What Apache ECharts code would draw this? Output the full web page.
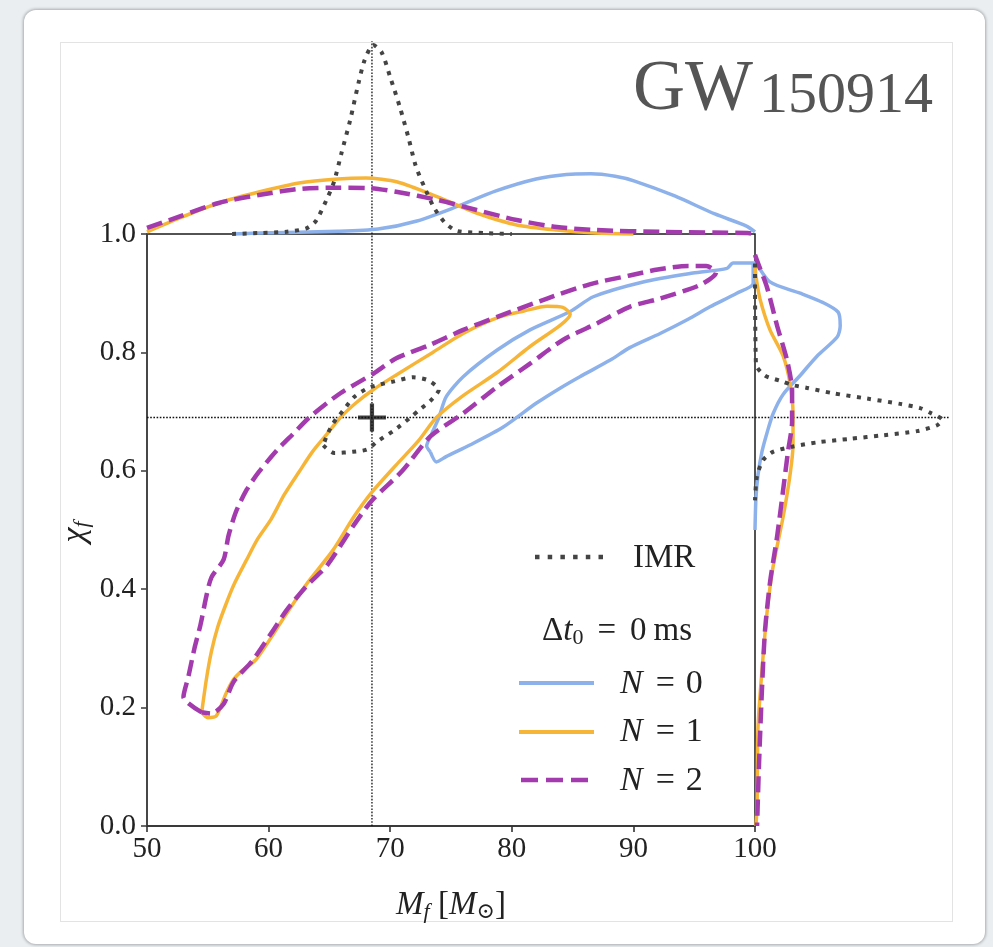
<!DOCTYPE html>
<html><head><meta charset="utf-8">
<script src="https://cdn.jsdelivr.net/npm/echarts@6/dist/echarts.min.js"></script>
<style>
html,body{margin:0;padding:0;width:993px;height:947px;overflow:hidden;background:#eaeef1;}
#card{position:absolute;left:24px;top:10px;width:961px;height:934px;background:#fff;border-radius:12px;box-shadow:0 0 3px 1px rgba(0,0,0,0.28);}
#inner{position:absolute;left:60px;top:42px;width:891px;height:878px;border:1px solid #e3e3e3;background:#fff;}
#c{position:absolute;left:0;top:0;width:993px;height:947px;}
</style>
</head><body>
<div id="card"></div><div id="inner"></div>
<div id="c"></div>
<script>
// ---------------- data ----------------
const xTicks = [50, 60, 70, 80, 90, 100];
const yTicks = [0.0, 0.2, 0.4, 0.6, 0.8, 1.0];
const IMR_MF = 68.5, IMR_CHI = 0.69;

// 90% credible contours in (M_f, chi_f)
const contourN0 = [[73.3,0.632],[73.8,0.615],[74.6,0.624],[76.6,0.644],[79.3,0.674],[82.0,0.714],[84.0,0.740],[85.6,0.759],[88.1,0.787],[89.7,0.808],[92.2,0.832],[94.5,0.856],[96.3,0.877],[98.5,0.900],[99.85,0.917],[99.85,0.951],[98.2,0.951],[97.7,0.942],[94.9,0.934],[90.8,0.919],[86.7,0.894],[84.8,0.869],[81.5,0.838],[78.8,0.804],[76.0,0.759],[74.6,0.725],[74.0,0.690],[73.4,0.662],[73.0,0.642],[73.3,0.632]];
const contourN1 = [[54.5,0.192],[54.9,0.250],[55.3,0.295],[55.8,0.335],[56.5,0.375],[57.2,0.410],[58.2,0.450],[59.1,0.485],[60.2,0.518],[61.3,0.560],[62.5,0.598],[63.6,0.632],[64.8,0.662],[65.9,0.690],[67.2,0.715],[68.6,0.737],[70.5,0.762],[73.5,0.800],[76.0,0.832],[79.0,0.860],[81.0,0.870],[82.9,0.878],[84.2,0.876],[84.8,0.864],[84.0,0.846],[81.5,0.810],[78.8,0.766],[76.0,0.727],[73.8,0.690],[72.3,0.650],[70.5,0.610],[68.5,0.564],[67.0,0.522],[65.3,0.466],[63.1,0.408],[61.2,0.350],[59.0,0.282],[57.8,0.262],[57.1,0.247],[56.5,0.224],[55.7,0.186],[55.0,0.183],[54.5,0.192]];
const contourN2 = [[54.5,0.192],[53.0,0.218],[53.4,0.252],[53.9,0.300],[54.4,0.340],[54.9,0.390],[55.3,0.420],[56.3,0.450],[56.7,0.490],[57.3,0.530],[58.2,0.568],[59.2,0.598],[60.7,0.635],[62.0,0.662],[63.4,0.691],[65.9,0.731],[68.6,0.764],[70.5,0.790],[73.3,0.813],[76.0,0.838],[78.8,0.860],[82.9,0.891],[86.4,0.915],[89.7,0.930],[92.0,0.940],[94.5,0.946],[96.0,0.946],[96.8,0.935],[95.5,0.914],[92.2,0.891],[89.7,0.877],[87.0,0.849],[84.2,0.821],[81.5,0.781],[78.8,0.742],[76.0,0.697],[73.3,0.658],[71.0,0.600],[68.5,0.550],[67.0,0.508],[64.8,0.440],[63.1,0.405],[61.5,0.365],[60.2,0.325],[58.7,0.280],[57.1,0.243],[56.3,0.206],[55.3,0.190],[54.5,0.192]];
const contourIMR = [[64.5,0.643],[65.4,0.630],[66.9,0.632],[68.1,0.636],[68.9,0.649],[70.3,0.668],[71.6,0.689],[72.4,0.703],[73.3,0.718],[74.0,0.737],[73.1,0.753],[71.9,0.758],[70.3,0.751],[69.2,0.746],[68.1,0.739],[67.0,0.724],[66.1,0.701],[65.3,0.680],[64.8,0.660],[64.5,0.643]];

// marginal densities of M_f (top panel) : [M_f, density]
const topIMR = [[57,0],[59.2,0.005],[61.5,0.012],[63.1,0.03],[63.9,0.07],[64.9,0.2],[65.4,0.28],[66.0,0.43],[66.7,0.6],[67.4,0.8],[67.9,0.92],[68.6,1.0],[69.3,0.96],[70.0,0.83],[70.8,0.67],[71.5,0.51],[72.1,0.36],[72.8,0.25],[73.6,0.14],[74.5,0.06],[75.5,0.016],[77.8,0.005],[80,0]];
const topN0 = [[57,0],[59.2,0.005],[65.7,0.014],[69.0,0.026],[72.2,0.069],[75.4,0.143],[78.7,0.228],[82.0,0.291],[84.5,0.315],[86.5,0.318],[88.5,0.305],[90.1,0.28],[93.4,0.201],[96.7,0.106],[99.3,0.042],[100,0.011]];
const topN1 = [[50,0.011],[52.7,0.085],[55.9,0.164],[59.2,0.222],[62.5,0.270],[65.7,0.291],[68.0,0.296],[70.6,0.275],[73.9,0.196],[77.1,0.111],[80.4,0.048],[83.7,0.021],[86.9,0.005],[90,0]];
const topN2 = [[50,0.032],[52.7,0.093],[55.9,0.164],[59.2,0.206],[62.5,0.238],[65.7,0.245],[68.3,0.243],[70.6,0.222],[73.9,0.180],[77.1,0.127],[80.4,0.074],[83.7,0.037],[86.9,0.021],[92.4,0.011],[99.4,0.005],[100,0]];

// marginal densities of chi_f (right panel) : [density, chi_f]
const rightIMR = [[0,0.95],[0.005,0.78],[0.053,0.761],[0.134,0.752],[0.198,0.745],[0.278,0.740],[0.417,0.731],[0.599,0.722],[0.775,0.713],[0.882,0.706],[0.936,0.698],[1.0,0.686],[0.973,0.677],[0.866,0.667],[0.684,0.660],[0.508,0.654],[0.332,0.648],[0.203,0.641],[0.096,0.632],[0.043,0.618],[0.01,0.59],[0,0.55]];
const rightN0 = [[0,0.955],[0.08,0.919],[0.241,0.900],[0.364,0.884],[0.444,0.868],[0.455,0.845],[0.439,0.826],[0.332,0.794],[0.241,0.761],[0.150,0.729],[0.096,0.696],[0.064,0.664],[0.037,0.632],[0.016,0.593],[0.005,0.554],[0,0.50]];
const rightN1 = [[0,0.95],[0.005,0.929],[0.027,0.890],[0.080,0.838],[0.150,0.794],[0.187,0.748],[0.203,0.696],[0.203,0.644],[0.187,0.593],[0.150,0.522],[0.096,0.437],[0.064,0.360],[0.037,0.262],[0.016,0.166],[0.011,0.036],[0.005,0]];
const rightN2 = [[0,0.965],[0.011,0.955],[0.064,0.910],[0.118,0.845],[0.171,0.787],[0.198,0.735],[0.198,0.683],[0.176,0.632],[0.150,0.567],[0.118,0.489],[0.080,0.411],[0.053,0.328],[0.037,0.230],[0.021,0.101],[0.011,0]];

// ---------------- chart ----------------
const SERIF = "'Liberation Serif', 'DejaVu Serif', serif";
const C_N0 = '#8db1ea', C_N1 = '#f7b537', C_N2 = '#a33bae', C_IMR = '#444444';
const DASH = [16, 7], DOT = [4, 6.5];

function ls(name, data, g, color, width, type, z) {
  return {name, type: 'line', xAxisIndex: g, yAxisIndex: g, data,
    showSymbol: false, symbol: 'none', smooth: 0.25, silent: true, clip: false,
    lineStyle: {color, width, type: type || 'solid', cap: 'butt', join: 'round'}, z: z || 2};
}
function cross(data, g) {
  return {type: 'line', xAxisIndex: g, yAxisIndex: g, data, showSymbol: false, symbol: 'none',
    silent: true, clip: false, lineStyle: {color: '#111', width: 1.3, type: [1.6, 1.6]}, z: 1};
}
const hiddenAxis = (g, min, max) => ({gridIndex: g, type: 'value', min, max, show: false,
  axisLine: {show: false}, axisTick: {show: false}, axisLabel: {show: false}, splitLine: {show: false}});

const option = {
  animation: false,
  backgroundColor: 'transparent',
  grid: [
    {left: 147, top: 234, width: 608, height: 592, show: true, borderColor: '#1b1b1b', borderWidth: 1.5, backgroundColor: 'transparent', containLabel: false, outerBoundsMode: 'none'},
    {left: 147, top: 26, width: 608, height: 208, containLabel: false, outerBoundsMode: 'none'},
    {left: 755, top: 234, width: 206, height: 592, containLabel: false, outerBoundsMode: 'none'}
  ],
  xAxis: [
    {gridIndex: 0, type: 'value', min: xTicks[0], max: xTicks[xTicks.length - 1], interval: xTicks[1] - xTicks[0],
      axisLine: {show: true, onZero: false, lineStyle: {color: '#333', width: 1.6}},
      axisTick: {show: true, inside: false, length: 6, lineStyle: {color: '#333', width: 1.6}},
      axisLabel: {fontFamily: SERIF, fontSize: 29, color: '#222', margin: 9, showMinLabel: true, showMaxLabel: true},
      splitLine: {show: false}},
    hiddenAxis(1, xTicks[0], xTicks[xTicks.length - 1]),
    hiddenAxis(2, 0, 1.1)
  ],
  yAxis: [
    {gridIndex: 0, type: 'value', min: yTicks[0], max: yTicks[yTicks.length - 1], interval: 0.2,
      axisLine: {show: true, onZero: false, lineStyle: {color: '#444', width: 1.6}},
      axisTick: {show: true, inside: false, length: 6, lineStyle: {color: '#444', width: 1.6}},
      axisLabel: {fontFamily: SERIF, fontSize: 29, color: '#222', margin: 11, showMinLabel: true, showMaxLabel: true,
        formatter: v => v.toFixed(1)},
      splitLine: {show: false}},
    hiddenAxis(1, 0, 1.1),
    hiddenAxis(2, yTicks[0], yTicks[yTicks.length - 1])
  ],
  series: [
    cross([[IMR_MF, 0], [IMR_MF, 1]], 0),
    cross([[xTicks[0], IMR_CHI], [xTicks[xTicks.length - 1], IMR_CHI]], 0),
    cross([[IMR_MF, 0], [IMR_MF, 1.02]], 1),
    cross([[0, IMR_CHI], [1.04, IMR_CHI]], 2),
    ls('N = 0', contourN0, 0, C_N0, 3.5),
    ls('N = 1', contourN1, 0, C_N1, 3.5),
    ls('N = 2', contourN2, 0, C_N2, 4.5, DASH),
    ls('IMR', contourIMR, 0, C_IMR, 4, DOT, 4),
    ls('N = 0 top', topN0, 1, C_N0, 3.5),
    ls('N = 1 top', topN1, 1, C_N1, 3.5),
    ls('N = 2 top', topN2, 1, C_N2, 4.5, DASH),
    ls('IMR top', topIMR, 1, C_IMR, 4, DOT, 4),
    ls('N = 0 right', rightN0, 2, C_N0, 3.5),
    ls('N = 1 right', rightN1, 2, C_N1, 3.5),
    ls('N = 2 right', rightN2, 2, C_N2, 4.5, DASH),
    ls('IMR right', rightIMR, 2, C_IMR, 4, DOT, 4),
    {type: 'scatter', xAxisIndex: 0, yAxisIndex: 0, data: [[IMR_MF, IMR_CHI]], silent: true, z: 10,
      symbol: 'path://M4.25,0H5.75V4.25H10V5.75H5.75V10H4.25V5.75H0V4.25H4.25Z', symbolSize: 28,
      itemStyle: {color: '#111'}}
  ],
  graphic: [
    // title
    {type: 'text', right: 60, top: 54, z: 5, style: {
      text: '{a|GW}{b|150914}', fill: '#555', align: 'right',
      rich: {a: {fontFamily: SERIF, fontSize: 72, fill: '#555', lineHeight: 72, verticalAlign: 'bottom'},
             b: {fontFamily: SERIF, fontSize: 58, fill: '#555', lineHeight: 72, verticalAlign: 'bottom', padding: [0, 0, 0, 6]}}}},
    // axis names
    {type: 'text', x: 451, y: 905, z: 5, style: {
      text: '{i|M}{s|f}{u| [}{i|M}{s|⊙}{u|]}', align: 'center', verticalAlign: 'middle', fill: '#222',
      rich: {i: {fontFamily: SERIF, fontStyle: 'italic', fontSize: 33, fill: '#222', lineHeight: 36},
             s: {fontFamily: SERIF, fontStyle: 'italic', fontSize: 22, fill: '#222', lineHeight: 18, verticalAlign: 'bottom'},
             u: {fontFamily: SERIF, fontSize: 33, fill: '#222', lineHeight: 36}}}},
    {type: 'text', x: 75, y: 532, rotation: Math.PI / 2, z: 5, style: {
      text: '{i|χ}{s|f}', align: 'center', verticalAlign: 'middle', fill: '#222',
      rich: {i: {fontFamily: SERIF, fontStyle: 'italic', fontSize: 34, fill: '#222', lineHeight: 36},
             s: {fontFamily: SERIF, fontStyle: 'italic', fontSize: 22, fill: '#222', lineHeight: 18, verticalAlign: 'bottom'}}}},
    // legend
    {type: 'line', z: 5, shape: {x1: 535, y1: 557, x2: 603, y2: 557}, style: {stroke: C_IMR, lineWidth: 4.5, lineDash: [4.5, 8.2]}},
    {type: 'text', x: 633, y: 558, z: 5, style: {text: 'IMR', fontFamily: SERIF, fontSize: 33, fill: '#222', verticalAlign: 'middle'}},
    {type: 'text', x: 617, y: 631, z: 5, style: {
      text: '{u|Δ}{i|t}{s|0}{e|=}{u|0}{m|ms}', align: 'center', verticalAlign: 'middle', fill: '#222',
      rich: {u: {fontFamily: SERIF, fontSize: 33, fill: '#222', lineHeight: 36},
             i: {fontFamily: SERIF, fontStyle: 'italic', fontSize: 33, fill: '#222', lineHeight: 36},
             s: {fontFamily: SERIF, fontSize: 22, fill: '#222', lineHeight: 16, verticalAlign: 'bottom'},
             e: {fontFamily: SERIF, fontSize: 33, fill: '#222', lineHeight: 36, padding: [0, 14, 0, 14]},
             m: {fontFamily: SERIF, fontSize: 33, fill: '#222', lineHeight: 36, padding: [0, 0, 0, 7]}}}},
    {type: 'line', z: 5, shape: {x1: 519, y1: 683, x2: 594, y2: 683}, style: {stroke: C_N0, lineWidth: 4}},
    {type: 'line', z: 5, shape: {x1: 519, y1: 732, x2: 594, y2: 732}, style: {stroke: C_N1, lineWidth: 4}},
    {type: 'line', z: 5, shape: {x1: 521, y1: 780, x2: 594, y2: 780}, style: {stroke: C_N2, lineWidth: 4.5, lineDash: [17, 8]}},
    ...['0', '1', '2'].map((n, k) => ({type: 'text', x: 620, y: 684 + k * 48.5, z: 5, style: {
      text: '{i|N}{e|=}{u|' + n + '}', verticalAlign: 'middle', fill: '#222',
      rich: {i: {fontFamily: SERIF, fontStyle: 'italic', fontSize: 34, fill: '#222', lineHeight: 36},
             e: {fontFamily: SERIF, fontSize: 34, fill: '#222', lineHeight: 36, padding: [0, 11, 0, 13]},
             u: {fontFamily: SERIF, fontSize: 34, fill: '#222', lineHeight: 36}}}}))
  ]
};
const chart = echarts.init(document.getElementById('c'), null, {renderer: 'canvas', width: 993, height: 947});
chart.setOption(option);
</script>
</body></html>
